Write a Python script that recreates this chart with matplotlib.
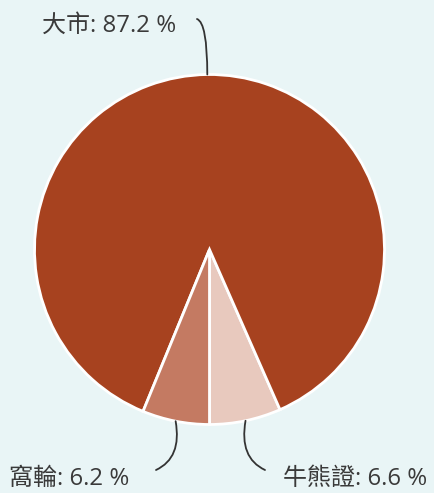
import matplotlib
matplotlib.use("Agg")
import matplotlib.pyplot as plt
from matplotlib.patches import FancyArrowPatch
import numpy as np

plt.rcParams['font.family'] = ['Open Sans', 'Noto Sans CJK TC', 'DejaVu Sans']

# Data (order: counter-clockwise starting at bottom)
categories = ['牛熊證', '大市', '窩輪']
values = [6.6, 87.2, 6.2]
colors = ['#e8c9be', '#a7421f', '#c47a62']

W, H = 435, 493
fig = plt.figure(figsize=(W / 100, H / 100), dpi=100)
bg = '#e9f5f6'
fig.patch.set_facecolor(bg)
ax = fig.add_axes([0, 0, 1, 1])
ax.set_facecolor(bg)

cx, cy, r = 209.5, H - 249.5, 175
wedges, _ = ax.pie(values, colors=colors, startangle=-90, counterclock=True,
                   center=(cx, cy), radius=r, frame=True,
                   wedgeprops=dict(edgecolor='white', linewidth=2))
ax.set_xlim(0, W)
ax.set_ylim(0, H)
ax.set_aspect('equal')
ax.axis('off')

text_color = '#3a3a3a'
fs = 17.3
# label placement
layout = {
    '大市': dict(tx=176, ty=H - 26, ha='right', end=(197, H - 19), aA=90, aB=160),
    '窩輪': dict(tx=9, ty=H - 479, ha='left', end=(156, H - 470), aA=100, aB=25),
    '牛熊證': dict(tx=283, ty=H - 479, ha='left', end=(265, H - 470), aA=80, aB=155),
}

for w, cat, v in zip(wedges, categories, values):
    mid = np.deg2rad((w.theta1 + w.theta2) / 2)
    px = cx + r * np.cos(mid)
    py = cy + r * np.sin(mid)
    L = layout[cat]
    ax.text(L['tx'], L['ty'], f'{cat}: {v} %', ha=L['ha'], va='center',
            fontsize=fs, color=text_color)
    arr = FancyArrowPatch((px, py), L['end'], arrowstyle='-',
                          connectionstyle=f"angle3,angleA={L['aA']},angleB={L['aB']}",
                          color='#333333', linewidth=1.3, shrinkA=0, shrinkB=0)
    ax.add_patch(arr)

fig.savefig('out.png', dpi=100, facecolor=bg)
